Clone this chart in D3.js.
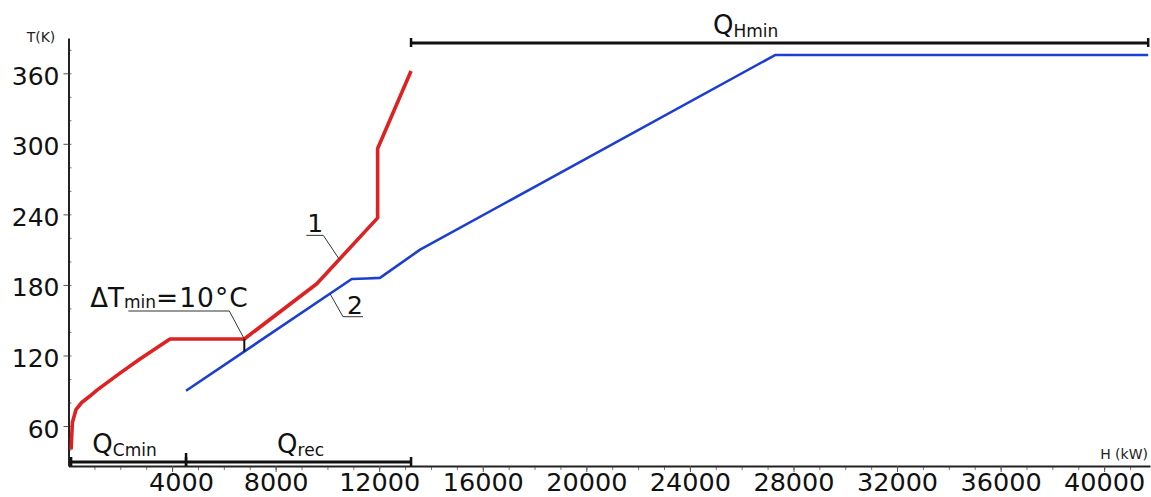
<!DOCTYPE html>
<html>
<head>
<meta charset="utf-8">
<script src="https://cdn.jsdelivr.net/npm/d3@7"></script>
<style>
    body { margin: 0; background: #fff; }
    svg { display: block; font-family: "DejaVu Sans", Verdana, sans-serif; }
</style>
</head>
<body>
<svg id="chart" width="1151" height="497"></svg>
<script>
// Curve 1 (red) : enthalpy in kW, temperature in K
var redH = [100, 150, 290, 510, 830, 1100, 1990, 2760, 3920, 6790, 9590, 11940, 11940, 13230];
var redT = [40, 63, 74, 80, 85.5, 90.5, 105, 117, 134, 134, 181, 237, 296, 362];

// Curve 2 (blue)
var blueH = [4540, 10940, 11520, 12030, 13580, 27290, 41700];
var blueT = [90, 185, 185.5, 186, 210, 375.5, 375.5];

// tick labels
var xTickValues = [4000, 8000, 12000, 16000, 20000, 24000, 28000, 32000, 36000, 40000];
var yTickValues = [60, 120, 180, 240, 300, 360];

// the three heat duty brackets
var bracketNames = ["Cmin", "rec", "Hmin"];
var bracketFrom = [100, 4540, 13230];
var bracketTo = [4540, 13230, 41700];

// where the pinch (dTmin) is marked, and where labels 1 and 2 point
var deltaTAt = 6790;
var label1At = 10460;
var label2At = 10100;

var svg = d3.select("#chart");

var xScale = d3.scaleLinear().domain([0, 41770]).range([68.5, 1150]);
var yScale = d3.scaleLinear().domain([26, 390]).range([466, 38]);

// linear interpolation along a curve, for placing the leader lines
function tAt(hs, ts, h) {
    for (var i = 1; i < hs.length; i++) {
        if (h <= hs[i]) {
            var f = (h - hs[i - 1]) / (hs[i] - hs[i - 1]);
            return ts[i - 1] + f * (ts[i] - ts[i - 1]);
        }
    }
    return ts[ts.length - 1];
}

/* AXES */

// minor x ticks every 1000 kW
svg.append("g")
    .attr("transform", "translate(0," + yScale(26) + ")")
    .call(d3.axisBottom(xScale).tickValues(d3.range(1000, 41001, 1000)).tickSize(4).tickFormat(""))
    .call(function (g) { g.select(".domain").remove(); })
    .selectAll("line").attr("stroke", "#777");

var xAxis = svg.append("g")
    .attr("transform", "translate(0," + yScale(26) + ")")
    .call(d3.axisBottom(xScale).tickValues(xTickValues).tickSize(6).tickSizeOuter(0).tickFormat(d3.format("d")));
xAxis.attr("font-family", null).attr("font-size", null);
xAxis.select(".domain").attr("stroke", "#222").attr("stroke-width", 2);
xAxis.selectAll("line").attr("stroke", "#555");
xAxis.selectAll("text")
    .attr("y", 25).attr("dy", 0)
    // the first label sits a bit right of its tick, clear of the y axis
    .attr("dx", function (d, i) { return i === 0 ? 9 : 0; })
    .style("font-size", "25.5px").attr("fill", "#111");

// minor y ticks every 20 K, on the inside
svg.append("g")
    .attr("transform", "translate(" + xScale(0) + ",0)")
    .call(d3.axisRight(yScale).tickValues(d3.range(40, 381, 20)).tickSize(3).tickFormat(""))
    .call(function (g) { g.select(".domain").remove(); })
    .selectAll("line").attr("stroke", "#777");

var yAxis = svg.append("g")
    .attr("transform", "translate(" + xScale(0) + ",0)")
    .call(d3.axisLeft(yScale).tickValues(yTickValues).tickSize(5).tickSizeOuter(0));
yAxis.attr("font-family", null).attr("font-size", null);
yAxis.select(".domain").attr("stroke", "#222").attr("stroke-width", 2);
yAxis.selectAll("line").attr("stroke", "#555");
yAxis.selectAll("text")
    .attr("x", -9).attr("y", 11).attr("dy", 0)
    .style("font-size", "25px").attr("fill", "#111");

// axis titles
svg.append("text").attr("x", 41).attr("y", 42)
    .attr("text-anchor", "middle").style("font-size", "14px").attr("fill", "#222")
    .text("T(K)");
svg.append("text").attr("x", 1148).attr("y", 459)
    .attr("text-anchor", "end").style("font-size", "14px").attr("fill", "#222")
    .text("H (kW)");

/* CURVES */

var line = d3.line()
    .x(function (d) { return xScale(d[0]); })
    .y(function (d) { return yScale(d[1]); });

svg.append("path")
    .datum(blueH.map(function (h, i) { return [h, blueT[i]]; }))
    .attr("d", line)
    .attr("fill", "none").attr("stroke", "#1c3fd0").attr("stroke-width", 2.6)
    .attr("stroke-linejoin", "round");

svg.append("path")
    .datum(redH.map(function (h, i) { return [h, redT[i]]; }))
    .attr("d", line)
    .attr("fill", "none").attr("stroke", "#de2222").attr("stroke-width", 3.6)
    .attr("stroke-linejoin", "round");

/* BRACKETS */

var bracketY = [462, 462, 43];
var labelShift = [-4, 2, -34];
bracketNames.forEach(function (name, i) {
    var x0 = xScale(bracketFrom[i]), x1 = xScale(bracketTo[i]), y = bracketY[i];
    var g = svg.append("g").attr("stroke", "#111");
    g.append("line").attr("x1", x0).attr("x2", x1).attr("y1", y).attr("y2", y).attr("stroke-width", 3);
    // the end caps; the one shared by two brackets on the same row is taller
    [x0, x1].forEach(function (x, k) {
        var tall = (k === 0 && i > 0 && bracketY[i - 1] === y);
        g.append("line").attr("x1", x).attr("x2", x)
            .attr("y1", y - (tall ? 9 : 5)).attr("y2", y + 4)
            .attr("stroke-width", 2.5);
    });
    var t = svg.append("text")
        .attr("x", (x0 + x1) / 2 + labelShift[i])
        .attr("y", y - 9)
        .attr("text-anchor", "middle").attr("fill", "#111");
    t.append("tspan").style("font-size", "26px").text("Q");
    t.append("tspan").style("font-size", "17px").attr("dy", 3).text(name);
});

/* ANNOTATIONS */

// dTmin marker between the two curves
var dx = xScale(deltaTAt),
    dyTop = yScale(tAt(redH, redT, deltaTAt)),
    dyBot = yScale(tAt(blueH, blueT, deltaTAt));
svg.append("line").attr("x1", dx).attr("x2", dx).attr("y1", dyTop).attr("y2", dyBot)
    .attr("stroke", "#111").attr("stroke-width", 2);
svg.append("polyline")
    .attr("points", [[dx - 116, dyTop - 28], [dx - 15, dyTop - 28], [dx, dyTop]].join(" "))
    .attr("fill", "none").attr("stroke", "#333").attr("stroke-width", 1);
var dt = svg.append("text").attr("x", dx - 154).attr("y", dyTop - 32).attr("fill", "#111");
dt.append("tspan").style("font-size", "26px").text("\u0394T");
dt.append("tspan").style("font-size", "17px").attr("dy", 1).text("min");
dt.append("tspan").style("font-size", "26.5px").attr("dy", -1)
    .style("letter-spacing", "1px").text("=10\u00b0C");

// label 1 on the red curve
var p1x = xScale(label1At), p1y = yScale(tAt(redH, redT, label1At));
svg.append("polyline")
    .attr("points", [[p1x, p1y], [p1x - 16, p1y - 24], [p1x - 33, p1y - 24]].join(" "))
    .attr("fill", "none").attr("stroke", "#333").attr("stroke-width", 1);
svg.append("text").attr("x", p1x - 24).attr("y", p1y - 27)
    .attr("text-anchor", "middle").style("font-size", "25px").attr("fill", "#111").text("1");

// label 2 on the blue curve
var p2x = xScale(label2At), p2y = yScale(tAt(blueH, blueT, label2At));
svg.append("polyline")
    .attr("points", [[p2x, p2y], [p2x + 13, p2y + 23], [p2x + 33, p2y + 23]].join(" "))
    .attr("fill", "none").attr("stroke", "#333").attr("stroke-width", 1);
svg.append("text").attr("x", p2x + 25).attr("y", p2y + 20)
    .attr("text-anchor", "middle").style("font-size", "25px").attr("fill", "#111").text("2");
</script>
</body>
</html>
